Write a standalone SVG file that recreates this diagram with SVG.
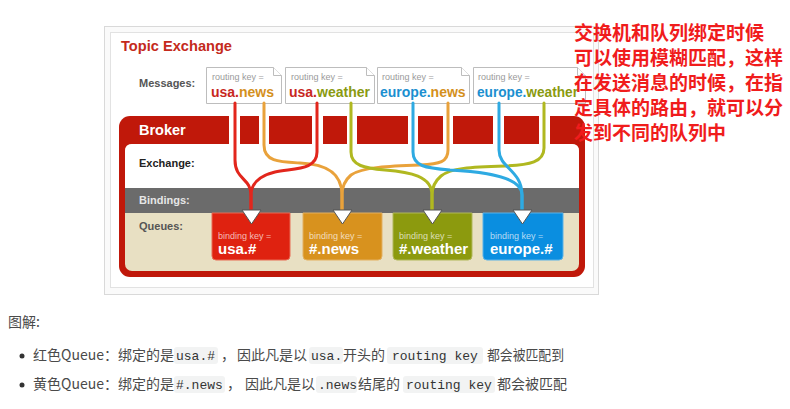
<svg xmlns="http://www.w3.org/2000/svg" width="790" height="409" viewBox="0 0 790 409">
<style>
.sans{font-family:"Liberation Sans","DejaVu Sans",Arial,sans-serif}
.lbl{font-family:"Liberation Sans",Arial,sans-serif;font-weight:bold;font-size:11px}
.msg{fill:#fff;stroke:#bdbdbd;stroke-width:1}
.rk{font-family:"Liberation Sans",Arial,sans-serif;font-size:9px;fill:#9a9a9a}
.key{font-family:"Liberation Sans",Arial,sans-serif;font-size:14px;font-weight:bold}
.gap{fill:#fff}
.tri{fill:#fff;stroke:#555;stroke-width:1}
.bk{font-family:"Liberation Sans",Arial,sans-serif;font-size:9px;fill:#fff;fill-opacity:.7}
.qk{font-family:"Liberation Sans",Arial,sans-serif;font-size:15px;font-weight:bold;fill:#fff}
.conn path{fill:none;stroke-width:3;stroke-linecap:round}
.note{font-family:"Noto Sans CJK SC",sans-serif;font-weight:bold;font-size:19px;fill:#f01c1c}
.body{font-family:"Noto Sans CJK SC","Noto Sans",sans-serif;font-size:14px;fill:#4a4a4a}
.code{font-family:"Liberation Mono","DejaVu Sans Mono",monospace;font-size:13px;fill:#333}
.cbg{fill:#f2f3f3}
</style>

<g id="frame">
<rect x="104.5" y="26.5" width="494" height="268" fill="#fafafa" stroke="#d9d9d9"/>
<rect x="110.5" y="32.5" width="483" height="255" fill="#fff" stroke="#e2e2e2"/>
<text x="121" y="51" class="sans" font-size="15" font-weight="bold" fill="#c42a1c" textLength="111" lengthAdjust="spacingAndGlyphs">Topic Exchange</text>
<text x="139" y="87" class="lbl" fill="#555">Messages:</text>
</g>

<g id="msg-usa-news">
<path class="msg" d="M206.5,67.5 H273.5 L281.5,75.5 V103.5 H206.5 Z"/>
<path class="msg" d="M273.5,67.5 V75.5 H281.5"/>
<text x="212" y="80" class="rk">routing key =</text>
<text x="211" y="97" class="key"><tspan fill="#c8281e">usa.</tspan><tspan fill="#d4901c">news</tspan></text>
</g>
<g id="msg-usa-weather">
<path class="msg" d="M285.5,67.5 H366.5 L374.5,75.5 V103.5 H285.5 Z"/>
<path class="msg" d="M366.5,67.5 V75.5 H374.5"/>
<text x="291" y="80" class="rk">routing key =</text>
<text x="289" y="97" class="key"><tspan fill="#c8281e">usa.</tspan><tspan fill="#8a9a10">weather</tspan></text>
</g>
<g id="msg-europe-news">
<path class="msg" d="M377.5,67.5 H461.5 L469.5,75.5 V103.5 H377.5 Z"/>
<path class="msg" d="M461.5,67.5 V75.5 H469.5"/>
<text x="382" y="80" class="rk">routing key =</text>
<text x="380" y="97" class="key"><tspan fill="#1b8fd0">europe.</tspan><tspan fill="#d4901c">news</tspan></text>
</g>
<g id="msg-europe-weather">
<path class="msg" d="M473.5,67.5 H577.5 L585.5,75.5 V103.5 H473.5 Z"/>
<path class="msg" d="M577.5,67.5 V75.5 H585.5"/>
<text x="478" y="80" class="rk">routing key =</text>
<text x="477" y="97" class="key" textLength="101" lengthAdjust="spacingAndGlyphs"><tspan fill="#1b8fd0">europe.</tspan><tspan fill="#8a9a10">weather</tspan></text>
</g>

<g id="broker">
<rect x="119" y="116" width="466" height="161" rx="11" fill="#c0180a"/>
<rect x="125" y="144" width="454" height="127" rx="7" fill="#e8e0c3"/>
<path d="M125,151 Q125,144 132,144 H572 Q579,144 579,151 V188 H125 Z" fill="#fff"/>
<rect x="125" y="188" width="454" height="25" fill="#6b6b6b"/>
<rect class="gap" x="229" y="116" width="11" height="28"/>
<rect class="gap" x="259" y="116" width="10" height="28"/>
<rect class="gap" x="312" y="116" width="11" height="28"/>
<rect class="gap" x="347" y="116" width="10" height="28"/>
<rect class="gap" x="408" y="116" width="10" height="28"/>
<rect class="gap" x="443" y="116" width="10" height="28"/>
<rect class="gap" x="493" y="116" width="11" height="28"/>
<rect class="gap" x="539" y="116" width="11" height="28"/>
<text x="139" y="135" class="sans" font-size="14.5" font-weight="bold" fill="#fff">Broker</text>
<text x="139" y="167" class="lbl" fill="#222">Exchange:</text>
<text x="139" y="204" class="lbl" fill="#e6e6e6">Bindings:</text>
<text x="139" y="230" class="lbl" fill="#555">Queues:</text>
</g>

<g id="queue-usa">
<path d="M212,213 H290 V256 Q290,260 286,260 H216 Q212,260 212,256 Z" fill="#df2210" stroke="#e86a55" stroke-width="1"/>
<text x="218" y="239" class="bk">binding key =</text>
<text x="218" y="254" class="qk">usa.#</text>
</g>
<g id="queue-news">
<path d="M303,213 H382 V256 Q382,260 378,260 H307 Q303,260 303,256 Z" fill="#d8921e" stroke="#e3b060" stroke-width="1"/>
<text x="309" y="239" class="bk">binding key =</text>
<text x="309" y="254" class="qk">#.news</text>
</g>
<g id="queue-weather">
<path d="M393,213 H472 V256 Q472,260 468,260 H397 Q393,260 393,256 Z" fill="#8c9a0e" stroke="#b0b85a" stroke-width="1"/>
<text x="399" y="239" class="bk">binding key =</text>
<text x="399" y="254" class="qk">#.weather</text>
</g>
<g id="queue-europe">
<path d="M483,213 H563 V256 Q563,260 559,260 H487 Q483,260 483,256 Z" fill="#0a8ee0" stroke="#5ab2e8" stroke-width="1"/>
<text x="490" y="239" class="bk">binding key =</text>
<text x="490" y="254" class="qk">europe.#</text>
</g>

<g id="connectors" class="conn">
<path stroke="#e9a23b" d="M264,103 V145 C264,162 280,162 300,163 C325,164 342,172 342,195 V210"/>
<path stroke="#e9a23b" d="M448,103 V150 C448,162 440,164 420,165 C390,166 362,167 351,175 C344,181 342,188 342,195 V210"/>
<path stroke="#b0b820" d="M351,103 V152 C351,166 365,168 385,170 C410,172 432,176 432,195 V210"/>
<path stroke="#b0b820" d="M544,103 V148 C544,162 530,165 505,166 C470,167 451,168 441,176 C434,182 432,188 432,195 V210"/>
<path stroke="#2eaae2" d="M413,103 V152 C413,166 425,168 450,170 C490,172 522,178 522,195 V210"/>
<path stroke="#2eaae2" d="M499,103 V150 C499,168 522,170 522,195 V210"/>
<path stroke="#e2261c" d="M235,103 V160 C235,180 251,178 251,195 V210"/>
<path stroke="#e2261c" d="M317,103 V152 C317,170 295,168 275,172 C258,176 251,185 251,195 V210"/>
</g>

<g id="arrowheads">
<path class="tri" d="M242,210 H261 L251.5,224 Z"/>
<path class="tri" d="M333,210 H352 L342.5,224 Z"/>
<path class="tri" d="M423,210 H442 L432.5,224 Z"/>
<path class="tri" d="M513,210 H532 L522.5,224 Z"/>
</g>

<g id="note">
<text class="note" x="574" y="40">交换机和队列绑定时候</text>
<text class="note" x="574" y="65">可以使用模糊匹配，这样</text>
<text class="note" x="574" y="90">在发送消息的时候，在指</text>
<text class="note" x="574" y="115">定具体的路由，就可以分</text>
<text class="note" x="574" y="140">发到不同的队列中</text>
</g>

<g id="explanation">
<text class="body" x="8" y="327">图解:</text>
<circle cx="22" cy="356" r="2.5" fill="#333"/>
<text class="body" x="33" y="360">红色Queue：绑定的是</text>
<rect class="cbg" x="174" y="347" width="44" height="17" rx="3"/>
<text class="code" x="176" y="360">usa.#</text>
<text class="body" x="221" y="360">，</text>
<text class="body" x="237" y="360">因此凡是以</text>
<rect class="cbg" x="309" y="347" width="34" height="17" rx="3"/>
<text class="code" x="311" y="360">usa.</text>
<text class="body" x="343" y="360">开头的</text>
<rect class="cbg" x="387" y="347" width="96" height="17" rx="3"/>
<text class="code" x="392" y="360">routing key</text>
<text class="body" x="487" y="360" textLength="77" lengthAdjust="spacingAndGlyphs">都会被匹配到</text>

<circle cx="22" cy="385" r="2.5" fill="#333"/>
<text class="body" x="33" y="389">黄色Queue：绑定的是</text>
<rect class="cbg" x="174" y="376" width="51" height="17" rx="3"/>
<text class="code" x="176" y="389">#.news</text>
<text class="body" x="227" y="389">，</text>
<text class="body" x="245" y="389">因此凡是以</text>
<rect class="cbg" x="316" y="376" width="41" height="17" rx="3"/>
<text class="code" x="318" y="389">.news</text>
<text class="body" x="358" y="389">结尾的</text>
<rect class="cbg" x="403" y="376" width="92" height="17" rx="3"/>
<text class="code" x="406" y="389">routing key</text>
<text class="body" x="497" y="389">都会被匹配</text>
</g>
</svg>
